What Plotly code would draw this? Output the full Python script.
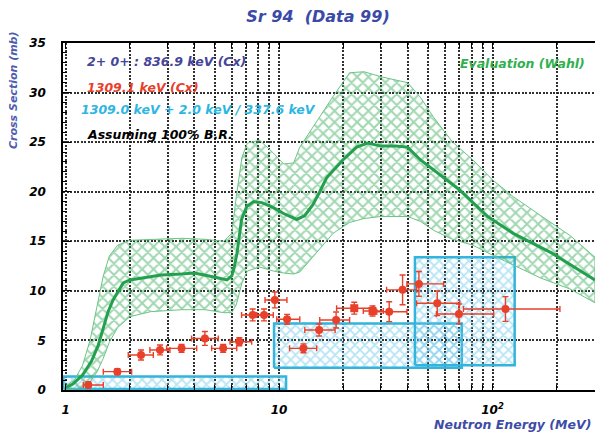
import plotly.graph_objects as go

# ---------------- data ----------------
# Evaluation (Wahl): central curve
eval_E = [1.0, 1.08, 1.2, 1.32, 1.42, 1.5, 1.58, 1.67, 1.76, 1.86, 2.0, 2.4, 2.8, 3.5, 4.0,
          4.7, 5.2, 5.7, 6.0, 6.15, 6.35, 6.67, 7.05, 7.6, 8.3, 9.4, 10.5, 12.1, 13.2, 14.4,
          15.5, 16.7, 19.9, 23.1, 26, 30, 35, 40, 46, 55, 70, 95, 125, 190, 302]
eval_mid = [0.25, 0.6, 1.5, 2.9, 4.5, 6.2, 7.9, 9.1, 10.0, 10.8, 11.1, 11.4, 11.6, 11.7, 11.8,
            11.5, 11.3, 11.1, 11.5, 12.3, 13.8, 17.2, 18.5, 19.0, 18.9, 18.4, 17.8, 17.2, 17.6, 18.7,
            20.0, 21.4, 23.2, 24.5, 24.9, 24.6, 24.6, 24.5, 23.2, 21.9, 20.2, 17.5, 15.8, 13.8, 11.1]

# Evaluation uncertainty band
band_E = [1.0, 1.1, 1.2, 1.3, 1.4, 1.5, 1.6, 1.75, 2.0, 2.5, 3.5, 4.5, 5.5, 6.0, 6.3, 6.7, 7.1,
          8.1, 9.4, 10.5, 11.7, 12.5, 14.5, 17.9, 21.4, 25, 30, 40, 46, 53, 65, 81, 100, 125,
          168, 230, 302]
band_hi = [0.4, 1.0, 2.5, 5.0, 8.5, 11.5, 13.5, 14.6, 15.1, 15.2, 15.3, 15.2, 15.0, 15.8, 19.5,
           23.5, 24.9, 25.2, 23.9, 22.8, 22.9, 24.5, 26.6, 29.6, 32.0, 32.1, 31.6, 31.0, 29.5,
           27.5, 25.0, 23.2, 21.2, 19.5, 17.6, 15.6, 13.4]
band_lo = [0.05, 0.1, 0.3, 0.8, 1.8, 3.2, 4.8, 6.3, 7.4, 7.9, 8.1, 8.1, 7.8, 7.8, 8.6, 10.8,
           12.0, 12.4, 12.0, 11.8, 11.7, 11.9, 13.5, 15.8, 16.9, 17.3, 17.5, 17.5, 17.0, 16.1,
           15.2, 14.6, 13.6, 12.6, 11.3, 10.2, 8.8]

# 1309.1 keV (Cx) measured points
red_E = [1.276, 1.746, 2.254, 2.766, 3.49, 4.49, 5.47, 6.51, 7.52, 8.5, 9.55, 10.9, 13.0,
         15.4, 18.5, 22.5, 27.4, 32.8, 37.9, 45.2, 55.1, 69.6, 115]
red_val = [0.5, 1.85, 3.53, 4.04, 4.2, 5.2, 4.2, 4.87, 7.57, 7.57, 9.08, 7.13, 4.2,
           6.05, 7.06, 8.25, 7.97, 7.9, 10.1, 10.7, 8.75, 7.67, 8.17]
red_Elo = [1.209, 1.5, 1.964, 2.48, 2.97, 3.89, 4.83, 5.89, 6.67, 7.86, 8.59, 9.75, 11.2,
           13.2, 15.5, 18.6, 24.8, 28.7, 31.9, 39.7, 44.1, 54.6, 73.1]
red_Ehi = [1.5, 2.037, 2.574, 3.08, 4.11, 5.19, 6.33, 7.44, 8.44, 9.39, 10.88, 12.5, 15.0,
           18.3, 21.4, 27.7, 30.8, 39.7, 44.1, 59.0, 70.2, 101.3, 207]
red_err = [0.3, 0.3, 0.5, 0.5, 0.4, 0.7, 0.4, 0.4, 0.6, 0.6, 0.8, 0.5, 0.45,
           0.6, 0.8, 0.6, 0.5, 1.0, 1.5, 1.25, 1.25, 1.0, 1.25]
red_sym = ["circle"] * 15 + ["square", "square"] + ["circle"] * 6

# 1309.0 keV + 2.0 keV / 337.6 keV boxes
box_E_lo = [0.975, 9.47, 43.3]
box_E_hi = [10.78, 71.8, 127.0]
box_lo = [0.1, 2.25, 2.5]
box_hi = [1.35, 6.7, 13.4]

x_major = [1, 10, 100]
x_major_text = ["1", "10", "10<sup>2</sup>"]
x_minor = [2, 3, 4, 5, 6, 7, 8, 9, 20, 30, 40, 50, 60, 70, 80, 90, 200]
y_major = [0, 5, 10, 15, 20, 25, 30, 35]

# ---------------- styles ----------------
FONT = "DejaVu Sans"
def f(size, color):
    return dict(family=FONT, size=size, color=color, weight="bold", style="italic")

GREEN = "#23a04e"
RED = "#e8402a"
CYAN = "#33b4dc"

fig = go.Figure()

# boxes
for i in range(len(box_E_lo)):
    xs = [box_E_lo[i], box_E_hi[i], box_E_hi[i], box_E_lo[i], box_E_lo[i]]
    ys = [box_lo[i], box_lo[i], box_hi[i], box_hi[i], box_lo[i]]
    fig.add_trace(go.Scatter(
        x=xs, y=ys, mode="lines", fill="toself",
        fillcolor="rgba(0,0,0,0)",
        fillpattern=dict(shape="x", fgcolor="#6ec8ea", bgcolor="rgba(0,0,0,0)",
                         size=7, solidity=0.45),
        line=dict(color=CYAN, width=2.5), showlegend=False, hoverinfo="skip"))

# evaluation band
bx = band_E + band_E[::-1]
by = band_lo + band_hi[::-1]
fig.add_trace(go.Scatter(
    x=bx, y=by, mode="lines", fill="toself",
    fillcolor="rgba(0,0,0,0)",
    fillpattern=dict(shape="x", fgcolor="#44b064", bgcolor="rgba(0,0,0,0)",
                     size=8, solidity=0.45),
    line=dict(color="#6cc486", width=1), showlegend=False, hoverinfo="skip"))

# evaluation central curve
fig.add_trace(go.Scatter(x=eval_E, y=eval_mid, mode="lines",
                         line=dict(color=GREEN, width=3), showlegend=False))

# measured points
fig.add_trace(go.Scatter(
    x=red_E, y=red_val, mode="markers",
    marker=dict(color=RED, size=8, symbol=red_sym),
    error_x=dict(type="data", symmetric=False,
                 array=[h - e for h, e in zip(red_Ehi, red_E)],
                 arrayminus=[e - l for e, l in zip(red_E, red_Elo)],
                 color=RED, thickness=1.4, width=3),
    error_y=dict(type="data", array=red_err, color=RED, thickness=1.4, width=3),
    showlegend=False))

# ---------------- layout ----------------
L, R, T, B = 63, 595, 43, 390
def px(xp):
    return (xp - L) / (R - L)
def py(yp):
    return (B - yp) / (B - T)

GC = "rgba(25,25,25,0.9)"
GD = "2px,1.5px"

fig.update_xaxes(type="log", range=[-0.01265, 2.4803],
                 tickmode="array", tickvals=x_major, ticktext=x_major_text,
                 ticks="inside", ticklen=6, tickwidth=1, tickcolor="black",
                 minor=dict(tickmode="array", tickvals=x_minor, ticks="inside", ticklen=5,
                            tickcolor="black", showgrid=True, gridcolor=GC, gridwidth=1.5,
                            griddash=GD),
                 showline=True, linecolor="black", linewidth=1.5, mirror="ticks",
                 tickfont=f(12, "black"), ticklabelstandoff=8,
                 showgrid=True, gridcolor=GC, gridwidth=1.5, griddash=GD,
                 zeroline=False)
fig.update_yaxes(range=[0, 35], tickmode="array", tickvals=y_major,
                 ticks="inside", ticklen=8, tickwidth=1, tickcolor="black",
                 minor=dict(dtick=1, ticks="inside", ticklen=4, tickcolor="black", showgrid=False),
                 showline=True, linecolor="black", linewidth=1.5,
                 tickfont=f(12, "black"), ticklabelstandoff=13,
                 showgrid=True, gridcolor=GC, gridwidth=1.5, griddash=GD,
                 zeroline=False)

ann = [
    dict(text="2+ 0+ : 836.9 keV (Cx)", x=px(85), y=py(62), font=f(12.5, "#45459a"), xanchor="left"),
    dict(text="1309.1 keV (Cx)", x=px(85), y=py(87), font=f(12.5, RED), xanchor="left"),
    dict(text="1309.0 keV + 2.0 keV / 337.6 keV", x=px(79), y=py(110), font=f(12.5, "#2db6e2"), xanchor="left"),
    dict(text="Assuming 100% B.R.", x=px(85), y=py(134), font=f(12.5, "black"), xanchor="left"),
    dict(text="Evaluation (Wahl)", x=px(587), y=py(63), font=f(12.5, "#30b050"), xanchor="right"),
    dict(text="Neutron Energy (MeV)", x=px(593), y=py(424), font=f(12.5, "#3d4ca6"), xanchor="right"),
    dict(text="Cross Section (mb)", x=px(13), y=py(90), font=f(11, "#4d5db0"), textangle=-90,
         xanchor="center"),
]
for a in ann:
    a.update(xref="paper", yref="paper", showarrow=False, yanchor="middle")

fig.update_layout(
    width=595, height=439,
    margin=dict(l=L, r=595 - R, t=T, b=439 - B, pad=0),
    paper_bgcolor="white", plot_bgcolor="white",
    title=dict(text="Sr 94  (Data 99)", x=318 / 595, y=1 - 16 / 439, xanchor="center",
               yanchor="middle", font=f(16, "#3a4aa6")),
    annotations=ann,
    showlegend=False,
)

fig.write_html("out.html")
